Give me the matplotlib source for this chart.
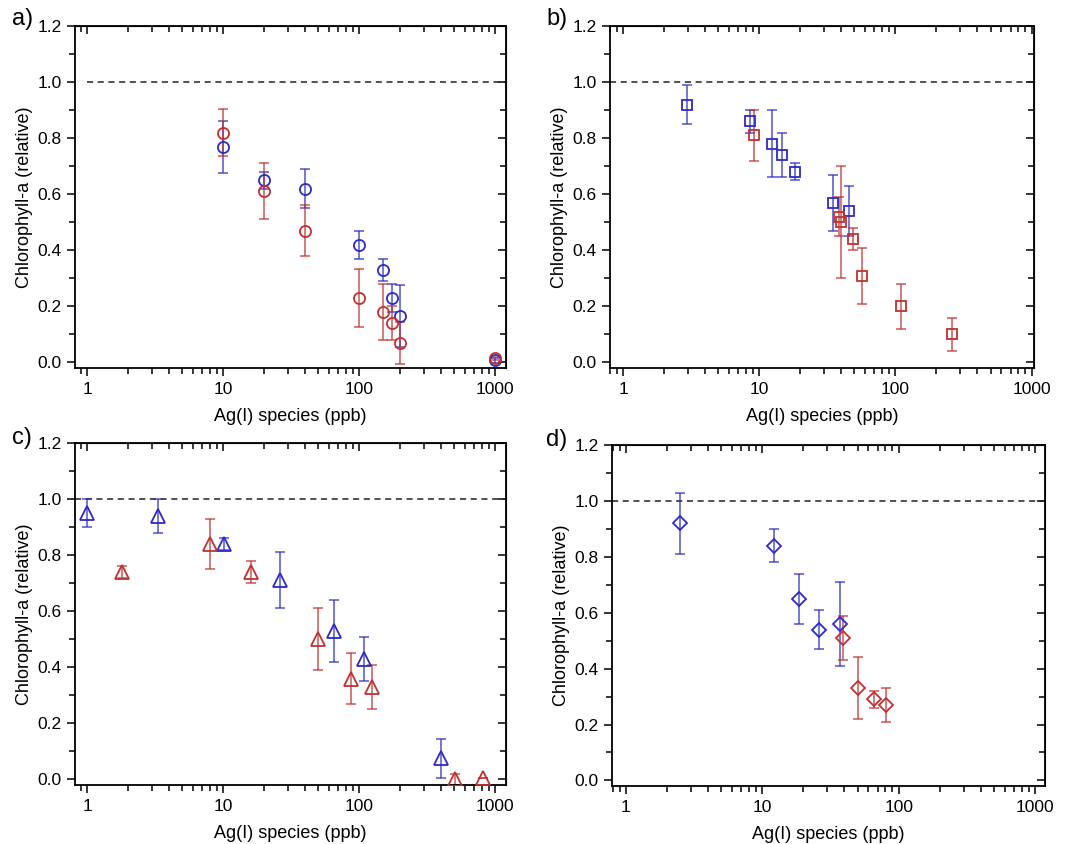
import numpy as np
import matplotlib.pyplot as plt
from matplotlib.ticker import FixedLocator, LogLocator, NullFormatter, MultipleLocator

plt.rcParams['font.family'] = ['Liberation Sans', 'DejaVu Sans']

# panel a - circles
a_blue_x = [10, 20, 40, 100, 150, 176, 201, 1000]
a_blue_y = [0.77, 0.65, 0.62, 0.42, 0.33, 0.23, 0.165, 0.007]
a_blue_e = [0.093, 0.03, 0.07, 0.05, 0.04, 0.05, 0.11, 0.01]
a_red_x = [10, 20, 40, 100, 150, 176, 201, 1000]
a_red_y = [0.82, 0.61, 0.47, 0.23, 0.18, 0.14, 0.07, 0.015]
a_red_e = [0.085, 0.1, 0.09, 0.103, 0.1, 0.06, 0.075, 0.005]

# panel b - squares
b_blue_x = [2.92, 8.5, 12.4, 14.6, 18.4, 34.5, 45.7]
b_blue_y = [0.92, 0.86, 0.78, 0.74, 0.68, 0.57, 0.54]
b_blue_e = [0.07, 0.04, 0.12, 0.08, 0.03, 0.1, 0.09]
b_red_x = [9.2, 38.6, 39.5, 49, 56.4, 109, 258]
b_red_y = [0.81, 0.52, 0.50, 0.44, 0.31, 0.20, 0.10]
b_red_e = [0.09, 0.07, 0.2, 0.04, 0.1, 0.08, 0.06]

# panel c - triangles
c_blue_x = [1.0, 3.35, 10.1, 26.5, 66, 110, 400]
c_blue_y = [0.95, 0.94, 0.84, 0.71, 0.53, 0.43, 0.075]
c_blue_e = [0.05, 0.06, 0.022, 0.1, 0.11, 0.08, 0.07]
c_red_x = [1.82, 8.1, 16.2, 50, 87, 125, 508, 816]
c_red_y = [0.74, 0.84, 0.74, 0.50, 0.36, 0.33, 0.0, 0.005]
c_red_e = [0.022, 0.09, 0.04, 0.11, 0.09, 0.08, 0.02, 0.0]

# panel d - diamonds
d_blue_x = [2.5, 12.1, 18.5, 26, 37]
d_blue_y = [0.92, 0.84, 0.65, 0.54, 0.56]
d_blue_e = [0.11, 0.06, 0.09, 0.07, 0.15]
d_red_x = [39, 50.5, 65.7, 81.4]
d_red_y = [0.51, 0.33, 0.29, 0.27]
d_red_e = [0.08, 0.11, 0.03, 0.06]

blue = '#2b2bc4'
red = '#c03030'

panels = [
    ('a)', [0.0703, 0.564, 0.4037, 0.405], (0.816, 1205), 'o', 8, 1.0,
     (a_blue_x, a_blue_y, a_blue_e), (a_red_x, a_red_y, a_red_e), (12, 19)),
    ('b)', [0.5717, 0.564, 0.3973, 0.405], (0.80, 1040), 's', 7.5, None,
     (b_blue_x, b_blue_y, b_blue_e), (b_red_x, b_red_y, b_red_e), (546, 19)),
    ('c)', [0.0703, 0.0699, 0.4037, 0.405], (0.816, 1205), '^', 9.5, None,
     (c_blue_x, c_blue_y, c_blue_e), (c_red_x, c_red_y, c_red_e), (12, 438)),
    ('d)', [0.5736, 0.0687, 0.4058, 0.404], (0.79, 1184), 'D', 7.5, None,
     (d_blue_x, d_blue_y, d_blue_e), (d_red_x, d_red_y, d_red_e), (546, 440)),
]

fig = plt.figure(figsize=(10.67, 8.44), dpi=100)

for letter, pos, xlim, mk, ms, dash_start, bl, rd, lpos in panels:
    ax = fig.add_axes(pos)
    ax.set_xscale('log')
    for (x, y, e), c in ((bl, blue), (rd, red)):
        ax.errorbar(x, y, yerr=e, fmt='none', ecolor=c, elinewidth=1.2,
                    capsize=3.5, capthick=1.2, alpha=0.75, zorder=2)
        ax.plot(x, y, mk, ms=ms, mfc='none', mec=c, mew=1.3, ls='none', zorder=3)
    if dash_start is None:
        ax.axhline(1.0, color='#222222', ls=(0, (4, 3)), lw=1.1, zorder=1)
    else:
        ax.plot([dash_start, xlim[1]], [1.0, 1.0], color='#222222',
                ls=(0, (4, 3)), lw=1.1, zorder=1)
    ax.set_xlim(*xlim)
    ax.set_ylim(-0.02, 1.2)
    ax.xaxis.set_major_locator(FixedLocator([1, 10, 100, 1000]))
    ax.set_xticklabels(['1', '10', '100', '1000'])
    ax.xaxis.set_minor_locator(LogLocator(base=10, subs=np.arange(2, 10)))
    ax.xaxis.set_minor_formatter(NullFormatter())
    ax.yaxis.set_major_locator(MultipleLocator(0.2))
    ax.yaxis.set_minor_locator(MultipleLocator(0.1))
    ax.yaxis.set_major_formatter(plt.FuncFormatter(lambda v, p: '%.1f' % v))
    ax.tick_params(which='both', direction='out', labelsize=12.5, width=1.1)
    ax.tick_params(which='major', length=6)
    ax.tick_params(which='minor', length=4)
    ax.tick_params(which='both', axis='x', pad=4)
    for side in ('top', 'right', 'left', 'bottom'):
        ax.spines[side].set_linewidth(1.3)
    # mirrored ticks point inward on top/right
    sec_x = ax.secondary_xaxis('top')
    sec_x.set_xticks([1, 10, 100, 1000])
    sec_x.xaxis.set_minor_locator(LogLocator(base=10, subs=np.arange(2, 10)))
    sec_x.tick_params(which='both', direction='in', labeltop=False, width=1.1)
    sec_x.tick_params(which='major', length=6)
    sec_x.tick_params(which='minor', length=4)
    sec_x.set_xticklabels([])
    sec_y = ax.secondary_yaxis('right')
    sec_y.yaxis.set_major_locator(MultipleLocator(0.2))
    sec_y.yaxis.set_minor_locator(MultipleLocator(0.1))
    sec_y.tick_params(which='both', direction='in', labelright=False, width=1.1)
    sec_y.tick_params(which='major', length=6)
    sec_y.tick_params(which='minor', length=4)
    ax.set_xlabel('Ag(I) species (ppb)', fontsize=13, labelpad=8)
    ax.set_ylabel('Chlorophyll-a (relative)', fontsize=13, labelpad=3)
    fig.text(lpos[0] / 1067, 1 - lpos[1] / 844, letter, fontsize=17,
             ha='left', va='center')

fig.savefig('out.png', dpi=100)
